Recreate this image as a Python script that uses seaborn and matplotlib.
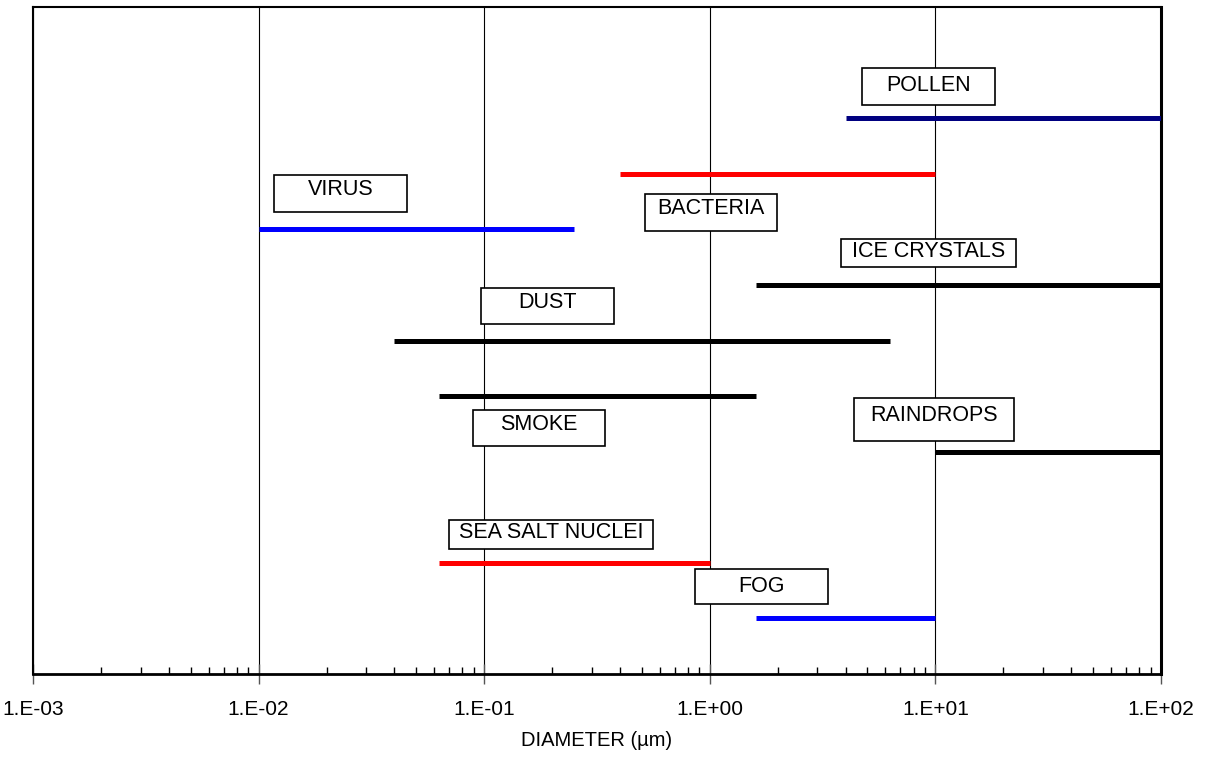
import matplotlib
matplotlib.use("Agg")
import matplotlib.pyplot as plt
from matplotlib.patches import Rectangle
from matplotlib.ticker import LogLocator, NullFormatter, FixedLocator
import numpy as np
import pandas as pd
import seaborn as sns

# Particle size ranges (diameter in micrometres)
particles = ["POLLEN", "BACTERIA", "VIRUS", "ICE CRYSTALS", "DUST",
             "SMOKE", "RAINDROPS", "SEA SALT NUCLEI", "FOG"]
d_min = [4.0, 0.4, 0.01, 1.6, 0.04, 0.063, 10.0, 0.063, 1.6]
d_max = [100.0, 10.0, 0.25, 100.0, 6.3, 1.6, 100.0, 1.0, 10.0]
row = [10, 9, 8, 7, 6, 5, 4, 2, 1]

tick_values = [1e-3, 1e-2, 1e-1, 1e0, 1e1, 1e2]
tick_labels = ["1.E-03", "1.E-02", "1.E-01", "1.E+00", "1.E+01", "1.E+02"]

colors = {
    "POLLEN": "#000080", "BACTERIA": "#FF0000", "VIRUS": "#0000FF",
    "ICE CRYSTALS": "#000000", "DUST": "#000000", "SMOKE": "#000000",
    "RAINDROPS": "#000000", "SEA SALT NUCLEI": "#FF0000", "FOG": "#0000FF",
}

# Label boxes in axes fractions: (x0, x1, y_bottom, y_top, text_y)
boxes = {
    "POLLEN": (0.735, 0.853, 0.853, 0.9085, 0.883),
    "VIRUS": (0.2137, 0.3313, 0.6927, 0.748, 0.727),
    "BACTERIA": (0.5426, 0.6596, 0.6646, 0.7196, 0.6972),
    "ICE CRYSTALS": (0.7163, 0.8715, 0.6106, 0.6522, 0.6331),
    "DUST": (0.3972, 0.5148, 0.5252, 0.5787, 0.5577),
    "SMOKE": (0.3901, 0.5071, 0.3418, 0.3958, 0.3748),
    "RAINDROPS": (0.7278, 0.8697, 0.3493, 0.4138, 0.3883),
    "SEA SALT NUCLEI": (0.3688, 0.5494, 0.1874, 0.2309, 0.2118),
    "FOG": (0.5869, 0.7045, 0.1049, 0.1574, 0.1309),
}

records = []
for name, lo, hi, r in zip(particles, d_min, d_max, row):
    records.append({"particle": name, "diameter": lo, "row": r})
    records.append({"particle": name, "diameter": hi, "row": r})
df = pd.DataFrame(records)

sns.set_style("white")
plt.rcParams["font.family"] = ["Liberation Sans", "DejaVu Sans"]
plt.rcParams["text.color"] = "black"
plt.rcParams["axes.labelcolor"] = "black"
plt.rcParams["xtick.color"] = "black"

fig = plt.figure(figsize=(12.12, 7.57), dpi=100)
ax = fig.add_axes([33 / 1212, 1 - 674 / 757, 1128 / 1212, 667 / 757])

sns.lineplot(data=df, x="diameter", y="row", hue="particle", units="particle",
             estimator=None, palette=colors, legend=False, linewidth=3.6,
             solid_capstyle="butt", ax=ax, zorder=3)

ax.set_xscale("log")
ax.set_xlim(1e-3, 1e2)
ax.set_ylim(0, 12)
ax.set_yticks([])
ax.set_ylabel("")

ax.xaxis.set_major_locator(FixedLocator(tick_values))
ax.set_xticklabels(tick_labels, fontsize=15, color="black")
ax.xaxis.set_minor_locator(LogLocator(base=10, subs=np.arange(2, 10), numticks=20))
ax.xaxis.set_minor_formatter(NullFormatter())
ax.tick_params(axis="x", which="major", bottom=True, direction="inout",
               length=14, width=1.0, color="#555555", pad=12)
ax.tick_params(axis="x", which="minor", bottom=True, direction="in",
               length=5, width=1.0, color="black")

ax.grid(True, axis="x", which="major", color="black", linewidth=0.8, zorder=1)
ax.set_axisbelow(True)

for side, lw in (("left", 1.5), ("top", 1.5), ("bottom", 2.0), ("right", 2.2)):
    ax.spines[side].set_visible(True)
    ax.spines[side].set_color("black")
    ax.spines[side].set_linewidth(lw)

ax.set_xlabel("DIAMETER (µm)", fontsize=14.5, labelpad=8, color="black")

for name, (x0, x1, yb, yt, ty) in boxes.items():
    ax.add_patch(Rectangle((x0, yb), x1 - x0, yt - yb, transform=ax.transAxes,
                           facecolor="white", edgecolor="black",
                           linewidth=1.2, zorder=4))
    ax.text((x0 + x1) / 2, ty, name, transform=ax.transAxes, ha="center",
            va="center", fontsize=15.5, color="black", zorder=5)

fig.savefig("out.png", dpi=100, facecolor="white")
